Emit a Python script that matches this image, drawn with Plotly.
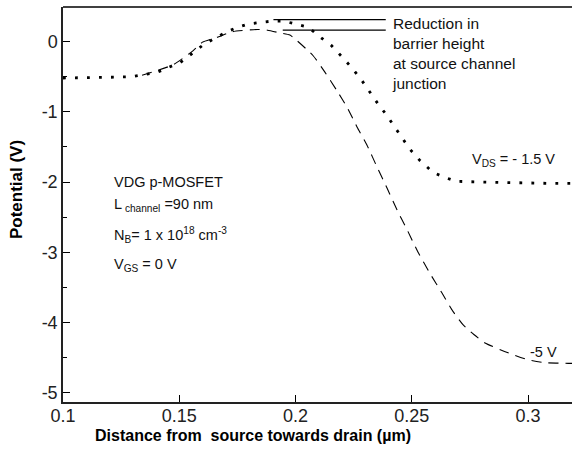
import plotly.graph_objects as go

# ---- data ----
x_vds15 = [0.100, 0.105, 0.110, 0.120, 0.130, 0.1353, 0.1405, 0.1453, 0.1504, 0.1556,
           0.1603, 0.1655, 0.1707, 0.175, 0.180, 0.185, 0.190, 0.195, 0.200, 0.2056,
           0.2103, 0.2155, 0.2203, 0.2246, 0.2284, 0.2319, 0.2353, 0.2392, 0.2427, 0.2461,
           0.2491, 0.2534, 0.259, 0.2638, 0.269, 0.28, 0.29, 0.30, 0.31, 0.32]
y_vds15 = [-0.52, -0.52, -0.52, -0.51, -0.50, -0.47, -0.44, -0.37, -0.30, -0.17,
           -0.05, 0.05, 0.14, 0.20, 0.25, 0.27, 0.29, 0.29, 0.25, 0.20,
           0.07, -0.06, -0.23, -0.39, -0.55, -0.72, -0.88, -1.05, -1.22, -1.38,
           -1.53, -1.69, -1.86, -1.93, -1.99, -2.00, -2.01, -2.02, -2.02, -2.02]

x_vds5 = [0.134, 0.140, 0.1475, 0.156, 0.160, 0.1664, 0.173, 0.1836, 0.188, 0.1935,
          0.1976, 0.2075, 0.2127, 0.2178, 0.2222, 0.2265, 0.2308, 0.2351, 0.2394, 0.2437,
          0.248, 0.2527, 0.2578, 0.263, 0.2677, 0.272, 0.2767, 0.2815, 0.2914, 0.300,
          0.3069, 0.3172, 0.32]
y_vds5 = [-0.48, -0.42, -0.33, -0.13, -0.01, 0.06, 0.14, 0.17, 0.16, 0.12,
          0.09, -0.20, -0.44, -0.70, -0.94, -1.22, -1.48, -1.79, -2.09, -2.40,
          -2.68, -3.00, -3.30, -3.58, -3.84, -4.03, -4.17, -4.29, -4.43, -4.53,
          -4.57, -4.58, -4.58]

# barrier-height marker lines (annotation)
barrier_top_x = [0.1905, 0.2388]
barrier_top_y = 0.31
barrier_low_x = [0.1945, 0.2388]
barrier_low_y = 0.16

x_tickvals = [0.1, 0.15, 0.2, 0.25, 0.3]
x_ticktext = ["0.1", "0.15", "0.2", "0.25", "0.3"]
y_tickvals = [0, -1, -2, -3, -4, -5]
y_ticktext = ["0", "-1", "-2", "-3", "-4", "-5"]

FONT = "Liberation Sans, Arial, sans-serif"

fig = go.Figure()
fig.add_trace(go.Scatter(x=x_vds15, y=y_vds15, mode="lines",
                         line=dict(color="black", width=2.8, dash="2.8px,9.2px"),
                         showlegend=False, hoverinfo="skip"))
fig.add_trace(go.Scatter(x=x_vds5, y=y_vds5, mode="lines", line_shape="spline",
                         line=dict(color="black", width=1.1, dash="10px,7px", smoothing=0.5),
                         showlegend=False, hoverinfo="skip"))
fig.add_trace(go.Scatter(x=barrier_top_x, y=[barrier_top_y] * 2, mode="lines",
                         line=dict(color="black", width=1.2), showlegend=False, hoverinfo="skip"))
fig.add_trace(go.Scatter(x=barrier_low_x, y=[barrier_low_y] * 2, mode="lines",
                         line=dict(color="black", width=1.2), showlegend=False, hoverinfo="skip"))

anns = [
    dict(x=0.1211, y=-2.0, text="VDG p-MOSFET", size=14.5),
    dict(x=0.1211, y=-2.33, text="L<sub> channel</sub> =90 nm", size=14.5),
    dict(x=0.1211, y=-2.76, text="N<sub>B</sub>= 1 x 10<sup>18</sup> cm<sup>-3</sup>", size=14.5),
    dict(x=0.1211, y=-3.18, text="V<sub>GS</sub> = 0 V", size=14.5),
    dict(x=0.2405, y=-0.17, text="Reduction in<br>barrier height<br>at source channel<br>junction", size=15.5),
    dict(x=0.2751, y=-1.69, text="V<sub>DS</sub> = - 1.5 V", size=14.5),
    dict(x=0.300, y=-4.42, text="-5 V", size=14.5),
]
annotations = []
for a in anns:
    annotations.append(dict(x=a["x"], y=a["y"], xref="x", yref="y", text=a["text"],
                            showarrow=False, xanchor="left", yanchor="middle",
                            align="left", font=dict(family=FONT, size=a["size"], color="#111")))
# axis titles
annotations.append(dict(x=0.373, y=-0.084, xref="paper", yref="paper",
                        text="<b>Distance from  source towards drain (µm)</b>",
                        showarrow=False, xanchor="center", yanchor="middle",
                        font=dict(family=FONT, size=16, color="black")))
annotations.append(dict(x=-0.09, y=0.537, xref="paper", yref="paper", xanchor="center",
                        yanchor="middle", text="<b>Potential (V)</b>", textangle=-90,
                        showarrow=False, font=dict(family=FONT, size=17, color="black")))

fig.update_layout(
    width=572, height=453,
    margin=dict(l=63, r=0, t=7, b=51),
    paper_bgcolor="white", plot_bgcolor="white",
    annotations=annotations,
    shapes=[dict(type="line", xref="paper", yref="paper", x0=0, x1=1, y0=1, y1=1,
                 line=dict(color="black", width=1.5))],
    xaxis=dict(range=[0.1, 0.3189], tickvals=x_tickvals, ticktext=x_ticktext,
               ticks="inside", ticklen=7, tickwidth=1.2, tickcolor="black",
               ticklabelstandoff=-4,
               showline=True, linecolor="#222", linewidth=2, showgrid=False, zeroline=False,
               tickfont=dict(family=FONT, size=18, color="#222")),
    yaxis=dict(range=[-5.13, 0.49], tickvals=y_tickvals, ticktext=y_ticktext,
               ticks="inside", ticklen=7, tickwidth=1.2, tickcolor="black",
               minor=dict(dtick=0.5, ticks="inside", ticklen=4, tickcolor="black", tickwidth=1),
               showline=True, linecolor="#222", linewidth=1.5, showgrid=False, zeroline=False,
               tickfont=dict(family=FONT, size=18, color="#222")),
)

fig.write_html("out.html")
